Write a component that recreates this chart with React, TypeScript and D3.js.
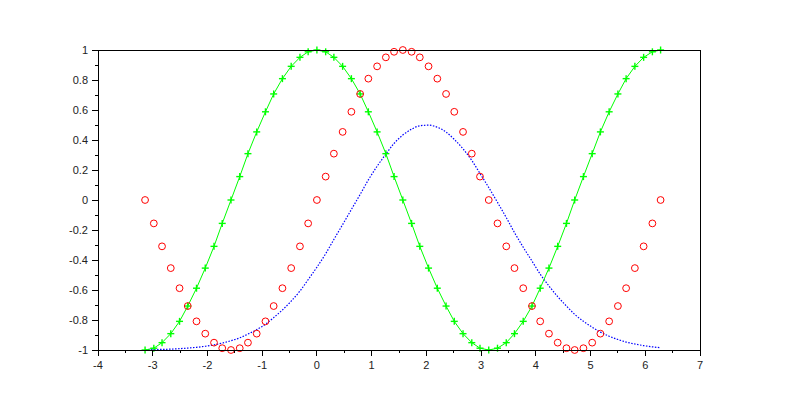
import React from "react";
import * as d3 from "d3";

const xValues = [
  -3.14, -2.98, -2.83, -2.67, -2.51, -2.36, -2.2, -2.04, -1.88, -1.73, -1.57, -1.41, -1.26, -1.1, -0.94,
  -0.79, -0.63, -0.47, -0.31, -0.16, 0, 0.16, 0.31, 0.47, 0.63, 0.79, 0.94, 1.1, 1.26, 1.41, 1.57, 1.73,
  1.88, 2.04, 2.2, 2.36, 2.51, 2.67, 2.83, 2.98, 3.14, 3.3, 3.46, 3.61, 3.77, 3.93, 4.08, 4.24, 4.4, 4.56,
  4.71, 4.87, 5.03, 5.18, 5.34, 5.5, 5.65, 5.81, 5.97, 6.13, 6.28,
];

const redCircles = [
  0, -0.156, -0.309, -0.454, -0.588, -0.707, -0.809, -0.891, -0.951, -0.988, -1, -0.988, -0.951, -0.891,
  -0.809, -0.707, -0.588, -0.454, -0.309, -0.156, 0, 0.156, 0.309, 0.454, 0.588, 0.707, 0.809, 0.891,
  0.951, 0.988, 1, 0.988, 0.951, 0.891, 0.809, 0.707, 0.588, 0.454, 0.309, 0.156, 0, -0.156, -0.309,
  -0.454, -0.588, -0.707, -0.809, -0.891, -0.951, -0.988, -1, -0.988, -0.951, -0.891, -0.809, -0.707,
  -0.588, -0.454, -0.309, -0.156, 0,
];

const greenPlus = [
  -1, -0.988, -0.951, -0.891, -0.809, -0.707, -0.588, -0.454, -0.309, -0.156, 0, 0.156, 0.309, 0.454,
  0.588, 0.707, 0.809, 0.891, 0.951, 0.988, 1, 0.988, 0.951, 0.891, 0.809, 0.707, 0.588, 0.454, 0.309,
  0.156, 0, -0.156, -0.309, -0.454, -0.588, -0.707, -0.809, -0.891, -0.951, -0.988, -1, -0.988, -0.951,
  -0.891, -0.809, -0.707, -0.588, -0.454, -0.309, -0.156, 0, 0.156, 0.309, 0.454, 0.588, 0.707, 0.809,
  0.891, 0.951, 0.988, 1,
];

const blueDotted = [
  -0.998, -0.997, -0.996, -0.994, -0.991, -0.987, -0.982, -0.975, -0.966, -0.954, -0.938, -0.919, -0.894,
  -0.864, -0.828, -0.784, -0.733, -0.674, -0.607, -0.531, -0.448, -0.358, -0.263, -0.164, -0.063, 0.037,
  0.134, 0.225, 0.306, 0.377, 0.433, 0.472, 0.495, 0.499, 0.485, 0.453, 0.404, 0.341, 0.264, 0.177, 0.083,
  -0.016, -0.117, -0.217, -0.315, -0.407, -0.494, -0.573, -0.644, -0.707, -0.762, -0.809, -0.848, -0.881,
  -0.908, -0.93, -0.947, -0.96, -0.971, -0.979, -0.985,
];

const xTickValues = [-4, -3, -2, -1, 0, 1, 2, 3, 4, 5, 6, 7];
const xTickLabels = ["-4", "-3", "-2", "-1", "0", "1", "2", "3", "4", "5", "6", "7"];
const xMinorTicks = [-3.5, -2.5, -1.5, -0.5, 0.5, 1.5, 2.5, 3.5, 4.5, 5.5, 6.5];
const yTickValues = [-1, -0.8, -0.6, -0.4, -0.2, 0, 0.2, 0.4, 0.6, 0.8, 1];
const yTickLabels = ["-1", "-0.8", "-0.6", "-0.4", "-0.2", "0", "0.2", "0.4", "0.6", "0.8", "1"];
const yMinorTicks = [-0.9, -0.7, -0.5, -0.3, -0.1, 0.1, 0.3, 0.5, 0.7, 0.9];

const W = 800;
const H = 400;
const LEFT = 98;
const RIGHT = 700;
const TOP = 50;
const BOTTOM = 350;

export default function App() {
  const x = d3.scaleLinear().domain([-4, 7]).range([LEFT, RIGHT]);
  const y = d3.scaleLinear().domain([-1, 1]).range([BOTTOM, TOP]);

  const pts = (vals: number[]) => xValues.map((xv, i) => [xv, vals[i]] as [number, number]);
  const line = d3
    .line<[number, number]>()
    .x((d) => x(d[0]))
    .y((d) => y(d[1]));
  const smooth = d3
    .line<[number, number]>()
    .x((d) => x(d[0]))
    .y((d) => y(d[1]))
    .curve(d3.curveMonotoneX);

  const font = "'Liberation Sans', Arial, sans-serif";

  return (
    <svg
      width={W}
      height={H}
      style={{ position: "absolute", left: 0, top: 0, background: "#fff" }}
      xmlns="http://www.w3.org/2000/svg"
    >
      <rect x={0} y={0} width={W} height={H} fill="#fff" />

      {/* data */}
      <path
        d={smooth(pts(blueDotted)) || ""}
        fill="none"
        stroke="#0000ff"
        strokeWidth={1.2}
        strokeDasharray="1.5,1.5"
      />
      <path d={line(pts(greenPlus)) || ""} fill="none" stroke="#00ff00" strokeWidth={1} />
      {pts(greenPlus).map((d, i) => (
        <g key={"g" + i} stroke="#00ff00" strokeWidth={1.4}>
          <line x1={x(d[0]) - 3.5} x2={x(d[0]) + 3.5} y1={y(d[1])} y2={y(d[1])} />
          <line x1={x(d[0])} x2={x(d[0])} y1={y(d[1]) - 3.5} y2={y(d[1]) + 3.5} />
        </g>
      ))}
      {pts(redCircles).map((d, i) => (
        <circle key={"r" + i} cx={x(d[0])} cy={y(d[1])} r={3.4} fill="none" stroke="#ff0000" strokeWidth={1} />
      ))}

      {/* frame */}
      <g stroke="#000" strokeWidth={1} shapeRendering="crispEdges">
        <line x1={LEFT} x2={RIGHT} y1={BOTTOM + 0.5} y2={BOTTOM + 0.5} />
        <line x1={LEFT} x2={RIGHT} y1={TOP} y2={TOP} />
        <line x1={LEFT} x2={LEFT} y1={TOP} y2={BOTTOM + 0.5} />
        <line x1={RIGHT} x2={RIGHT} y1={TOP} y2={BOTTOM + 0.5} />
        {xTickValues.map((t) => (
          <line key={"xt" + t} x1={x(t)} x2={x(t)} y1={BOTTOM} y2={BOTTOM + 6} />
        ))}
        {xMinorTicks.map((t) => (
          <line key={"xm" + t} x1={x(t)} x2={x(t)} y1={BOTTOM} y2={BOTTOM + 3} />
        ))}
        {yTickValues.map((t) => (
          <line key={"yt" + t} x1={LEFT - 6} x2={LEFT} y1={y(t)} y2={y(t)} />
        ))}
        {yMinorTicks.map((t) => (
          <line key={"ym" + t} x1={LEFT - 3} x2={LEFT} y1={y(t)} y2={y(t)} />
        ))}
      </g>

      {xTickValues.map((t, i) => (
        <text
          key={"xl" + t}
          x={x(t)}
          y={BOTTOM + 19}
          textAnchor="middle"
          fontFamily={font}
          fontSize={11}
          fill="#222"
        >
          {xTickLabels[i]}
        </text>
      ))}
      {yTickValues.map((t, i) => (
        <text
          key={"yl" + t}
          x={LEFT - 10}
          y={y(t) + 4}
          textAnchor="end"
          fontFamily={font}
          fontSize={11}
          fill="#222"
        >
          {yTickLabels[i]}
        </text>
      ))}
    </svg>
  );
}
